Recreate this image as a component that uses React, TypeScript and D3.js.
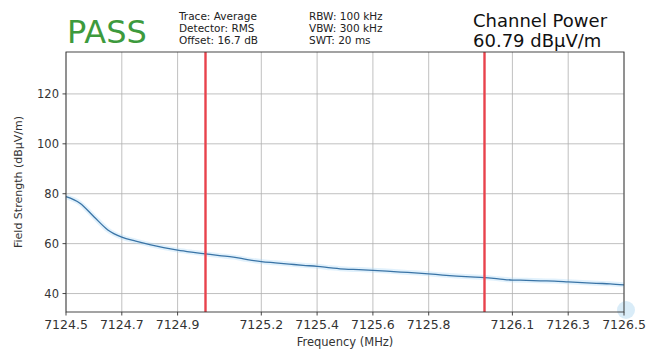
import React from 'react';
import * as d3 from 'd3';

// trace (MHz, dBuV/m)
const freqs = [
  7124.5, 7124.55, 7124.6, 7124.65, 7124.7, 7124.75, 7124.8, 7124.85, 7124.9, 7124.95,
  7125.0, 7125.05, 7125.1, 7125.15, 7125.2, 7125.25, 7125.3, 7125.35, 7125.4, 7125.45,
  7125.5, 7125.55, 7125.6, 7125.65, 7125.7, 7125.75, 7125.8, 7125.85, 7125.9, 7125.95,
  7126.0, 7126.05, 7126.1, 7126.15, 7126.2, 7126.25, 7126.3, 7126.35, 7126.4, 7126.45, 7126.5,
];
const levels = [
  78.8, 76.2, 70.8, 65.5, 62.6, 61.0, 59.6, 58.4, 57.4, 56.6,
  55.9, 55.2, 54.6, 53.6, 52.8, 52.3, 51.8, 51.3, 50.9, 50.3,
  49.8, 49.6, 49.3, 49.0, 48.6, 48.3, 47.9, 47.4, 47.0, 46.7,
  46.4, 45.9, 45.4, 45.3, 45.1, 45.0, 44.7, 44.4, 44.1, 43.9, 43.5,
];
const xTicks = [7124.5, 7124.7, 7124.9, 7125.2, 7125.4, 7125.6, 7125.8, 7126.1, 7126.3, 7126.5];
const yTicks = [40, 60, 80, 100, 120];
const channelEdges = [7125.0, 7126.0];
const infoLeft = ['Trace: Average', 'Detector: RMS', 'Offset: 16.7 dB'];
const infoRight = ['RBW: 100 kHz', 'VBW: 300 kHz', 'SWT: 20 ms'];

const W = 648;
const H = 349;
const margin = { top: 52, right: 24, bottom: 37, left: 66 };
const font = '"DejaVu Sans", sans-serif';

export default function App() {
  const x = d3.scaleLinear()
    .domain([7124.5, 7126.5])
    .range([margin.left, W - margin.right]);
  const y = d3.scaleLinear()
    .domain([32.6, 136.8])
    .range([H - margin.bottom, margin.top]);

  const data = freqs.map((f, i) => ({ f, v: levels[i] }));
  const line = d3.line<{ f: number; v: number }>()
    .x(d => x(d.f))
    .y(d => y(d.v))
    .curve(d3.curveMonotoneX);
  const path = line(data) || '';

  const x0 = margin.left, x1 = W - margin.right;
  const y0 = margin.top, y1 = H - margin.bottom;

  return (
    <svg width={W} height={H} style={{ position: 'absolute', left: 0, top: 0, background: '#fff' }}
      fontFamily={font}>
      {/* header */}
      <text x={67} y={43} fontSize={32} fill="#3d9a3d">PASS</text>
      {infoLeft.map((t, i) => (
        <text key={t} x={179} y={20 + i * 12} fontSize={10.5} fill="#222">{t}</text>
      ))}
      {infoRight.map((t, i) => (
        <text key={t} x={309} y={20 + i * 12} fontSize={10.5} fill="#222">{t}</text>
      ))}
      <text x={473} y={27} fontSize={18} fill="#111">Channel Power</text>
      <text x={473} y={47} fontSize={18} fill="#111">60.79 dBµV/m</text>

      {/* grid */}
      {xTicks.map(t => (
        <line key={'gx' + t} x1={x(t)} x2={x(t)} y1={y0} y2={y1} stroke="#b0b0b0" strokeWidth={0.8} />
      ))}
      {yTicks.map(t => (
        <line key={'gy' + t} x1={x0} x2={x1} y1={y(t)} y2={y(t)} stroke="#b0b0b0" strokeWidth={0.8} />
      ))}

      {/* trace */}
      <path d={path} fill="none" stroke="#a9d8f5" strokeWidth={5} strokeOpacity={0.35} />
      <path d={path} fill="none" stroke="#3a74a6" strokeWidth={1.3} />

      {/* channel edges */}
      {channelEdges.map(f => (
        <line key={f} x1={x(f)} x2={x(f)} y1={y0} y2={y1} stroke="#e8424c" strokeWidth={2.4} />
      ))}

      <circle cx={x1 + 2} cy={y1 - 2} r={9} fill="#b9dcf2" opacity={0.55} />

      {/* frame */}
      <rect x={x0} y={y0} width={x1 - x0} height={y1 - y0} fill="none" stroke="#333" strokeWidth={0.9} />

      {/* axes */}
      {xTicks.map(t => (
        <g key={'tx' + t}>
          <line x1={x(t)} x2={x(t)} y1={y1} y2={y1 + 3.5} stroke="#333" strokeWidth={0.9} />
          <text x={x(t)} y={y1 + 17} fontSize={12.5} textAnchor="middle" fill="#333">{t.toFixed(1)}</text>
        </g>
      ))}
      {yTicks.map(t => (
        <g key={'ty' + t}>
          <line x1={x0 - 3.5} x2={x0} y1={y(t)} y2={y(t)} stroke="#333" strokeWidth={0.9} />
          <text x={x0 - 7} y={y(t)} dy="0.35em" fontSize={11.5} textAnchor="end" fill="#333">{t}</text>
        </g>
      ))}
      <text x={(x0 + x1) / 2} y={H - 3} fontSize={11.5} textAnchor="middle" fill="#333">Frequency (MHz)</text>
      <text transform={`translate(22,${(y0 + y1) / 2}) rotate(-90)`} fontSize={11} textAnchor="middle" fill="#333">
        Field Strength (dBµV/m)
      </text>
    </svg>
  );
}
